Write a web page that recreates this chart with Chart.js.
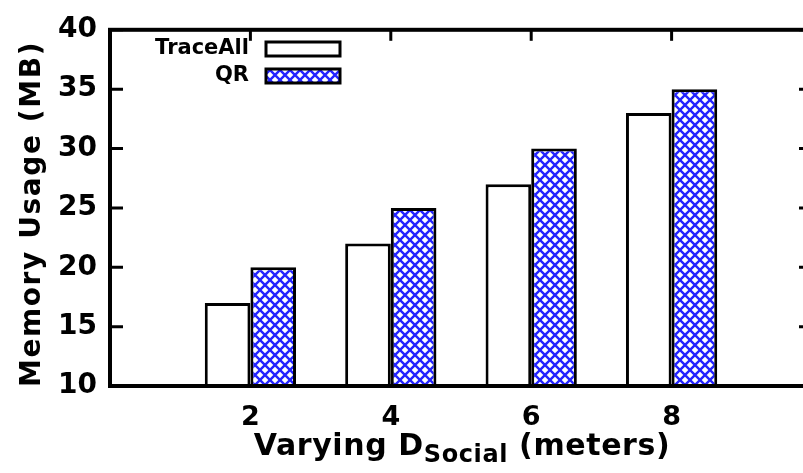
<!DOCTYPE html>
<html>
<head>
<meta charset="utf-8">
<script src="https://cdn.jsdelivr.net/npm/chart.js@4"></script>
<style>
  html, body { margin: 0; padding: 0; background: #fff; }
  #wrap { position: relative; width: 803px; height: 473px; overflow: hidden; }
  .ttl {
    position: absolute; text-align: center; white-space: nowrap; color: #000;
    font-family: "DejaVu Sans", Verdana, sans-serif; font-weight: bold;
  }
  #xtitle { left: 0; width: 924px; top: 425px; font-size: 30px; line-height: 40px; letter-spacing: 0.6px; }
  #xtitle sub { font-size: 24px; vertical-align: -7px; }
  #ytitle {
    left: -169px; top: 194px; width: 400px; height: 40px; line-height: 40px;
    font-size: 28px; letter-spacing: 1.6px; transform: rotate(-90deg);
  }
</style>
</head>
<body>
<div id="wrap">
  <canvas id="c" width="830" height="473"></canvas>
  <div id="xtitle" class="ttl">Varying D<sub>Social</sub> (meters)</div>
  <div id="ytitle" class="ttl">Memory Usage (MB)</div>
</div>
<script>
// memory usage vs D_social
const dSocial = [2, 4, 6, 8];
const traceAll = [17, 22, 27, 33];
const qr = [20, 25, 30, 35];
const seriesNames = ["TraceAll", "QR"];
const yTicks = [10, 15, 20, 25, 30, 35, 40];

const FONT = '"DejaVu Sans", Verdana, sans-serif';

function hatch() {
  const p = document.createElement("canvas");
  p.width = 10;
  p.height = 10;
  const g = p.getContext("2d");
  g.fillStyle = "#fff";
  g.fillRect(0, 0, 10, 10);
  g.strokeStyle = "#2424ff";
  g.lineWidth = 2.4;
  g.beginPath();
  g.moveTo(-1, -1); g.lineTo(11, 11);
  g.moveTo(-1, 11); g.lineTo(11, -1);
  g.stroke();
  return g.createPattern(p, "repeat");
}
const qrFill = hatch();

// frame + inward ticks, gnuplot style
const frame = {
  id: "frame",
  afterDatasetsDraw(chart) {
    const { ctx, chartArea: a, scales } = chart;
    ctx.save();
    ctx.strokeStyle = "#000";
    ctx.lineWidth = 3;
    yTicks.forEach((v) => {
      const y = scales.y.getPixelForValue(v);
      ctx.beginPath();
      ctx.moveTo(a.left, y); ctx.lineTo(a.left + 13, y);
      ctx.moveTo(a.right, y); ctx.lineTo(a.right - 13, y);
      ctx.stroke();
    });
    dSocial.forEach((v) => {
      const x = scales.x.getPixelForValue(v);
      ctx.beginPath();
      ctx.moveTo(x, a.top); ctx.lineTo(x, a.top + 11);
      ctx.stroke();
    });
    ctx.lineWidth = 4;
    ctx.strokeRect(a.left, a.top, a.right - a.left, a.bottom - a.top);
    ctx.restore();
  },
  afterDraw(chart) {
    const { ctx } = chart;
    ctx.save();
    ctx.font = "bold 21px " + FONT;
    ctx.textAlign = "right";
    ctx.textBaseline = "middle";
    ctx.fillStyle = "#000";
    chart.data.datasets.forEach((ds, i) => {
      const y = 49 + i * 27;
      ctx.fillText(ds.label, 249, y);
      ctx.fillStyle = ds.backgroundColor;
      ctx.fillRect(266, y - 7, 74, 14);
      ctx.fillStyle = "#000";
      ctx.lineWidth = 3;
      ctx.strokeRect(266, y - 7, 74, 14);
    });
    ctx.restore();
  },
};

new Chart(document.getElementById("c"), {
  type: "bar",
  data: {
    datasets: [
      {
        label: seriesNames[0],
        data: dSocial.map((x, i) => ({ x, y: traceAll[i] })),
        backgroundColor: "#fff",
        borderColor: "#000",
        borderWidth: 3,
        borderSkipped: false,
      },
      {
        label: seriesNames[1],
        data: dSocial.map((x, i) => ({ x, y: qr[i] })),
        backgroundColor: qrFill,
        borderColor: "#000",
        borderWidth: 3,
        borderSkipped: false,
      },
    ],
  },
  options: {
    responsive: false,
    animation: false,
    devicePixelRatio: 1,
    categoryPercentage: 0.65,
    barPercentage: 1,
    layout: { padding: { top: 27, right: 18, left: 0, bottom: 0 } },
    plugins: { legend: { display: false }, tooltip: { enabled: false } },
    scales: {
      x: {
        type: "linear",
        min: 0,
        max: 10,
        offset: false,
        afterFit: (s) => { s.height = 87; },
        grid: { display: false, drawTicks: false },
        border: { display: false },
        ticks: {
          stepSize: 2,
          padding: 16,
          color: "#000",
          font: { family: FONT, weight: "bold", size: 27 },
          callback: (v) => (dSocial.includes(v) ? String(v) : ""),
        },
      },
      y: {
        min: 10,
        max: 40,
        afterFit: (s) => { s.width = 110; },
        grid: { display: false, drawTicks: false },
        border: { display: false },
        ticks: {
          stepSize: 5,
          padding: 13,
          color: "#000",
          font: { family: FONT, weight: "bold", size: 28 },
        },
      },
    },
  },
  plugins: [frame],
});
</script>
</body>
</html>
